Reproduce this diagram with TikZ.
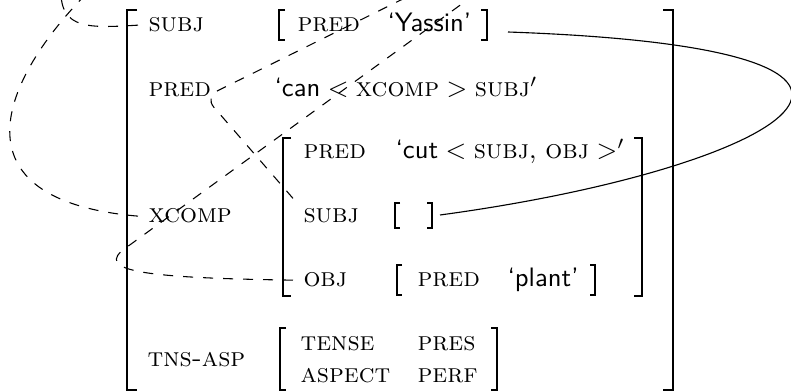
\documentclass[tikz,border=0pt]{standalone}
\begin{document}
\begin{tikzpicture}[x=0.375pt,y=-0.375pt,
  every node/.style={inner sep=3.75pt},
  lbl/.style={anchor=base west, font=\scshape},
  val/.style={anchor=base west, font=\sffamily},
  brk/.style={line width=0.42pt},
  bigbrk/.style={line width=0.75pt},
  link/.style={dash pattern=on 3.75pt off 3.75pt, line width=0.4pt},
  share/.style={line width=0.42pt},
]
\useasboundingbox (0,0) rectangle (791,392);
\clip (0,0) rectangle (791,392);
% outer brackets
\draw[bigbrk] (137,10) -- (127,10) -- (127,390) -- (137,390);
\draw[bigbrk] (663,10) -- (673,10) -- (673,390) -- (663,390);
% xcomp brackets
\draw[bigbrk] (291,138) -- (283,138) -- (283,296) -- (291,296);
\draw[bigbrk] (634,138) -- (642,138) -- (642,296) -- (634,296);
% small brackets
\draw[brk] (285,10) -- (279,10) -- (279,40) -- (285,40);
\draw[brk] (481,10) -- (487,10) -- (487,40) -- (481,40);
\draw[brk] (400,203) -- (395,203) -- (395,228) -- (400,228);
\draw[brk] (427,203) -- (432,203) -- (432,228) -- (427,228);
\draw[brk] (402,265) -- (397,265) -- (397,295) -- (402,295);
\draw[brk] (590,265) -- (595,265) -- (595,295) -- (590,295);
\draw[brk] (286,328) -- (280,328) -- (280,390) -- (286,390);
\draw[brk] (491,328) -- (497,328) -- (497,390) -- (491,390);
% labels
\node[lbl] (subjA) at (138,32) {subj};
\node[lbl] (predA) at (138,97) {pred};
\node[lbl] (xcompA) at (138,223) {xcomp};
\node[lbl] (tnsA) at (137,367) {tns-asp};
\node[lbl] (predY) at (287,32) {pred};
\node[val] (yassin) at (377,32) {`Yassin'};
\node[anchor=base west] (canV) at (264,97) {$\textsf{`can} < \textsc{xcomp} > \textsc{subj}'$};
\node[lbl] (predB) at (293,159) {pred};
\node[anchor=base west] (cutV) at (385,159) {$\textsf{`cut} < \textsc{subj}\textrm{, }\textsc{obj} >'$};
\node[lbl] (subjB) at (293,223) {subj};
\node[lbl] (objB) at (293,287) {obj};
\node[lbl] (predC) at (407,287) {pred};
\node[val] (plant) at (497,287) {`plant'};
\node[lbl] (tense) at (290,351) {tense};
\node[lbl] (aspect) at (290,383) {aspect};
\node[lbl] (pres) at (407,351) {pres};
\node[lbl] (perf) at (407,383) {perf};
% free ends
\coordinate (eTop) at (61,-10);
\coordinate (dTop) at (90,-10);
\coordinate (aTop) at (421,-10);
\coordinate (bTop) at (481,-10);
\coordinate (yR) at (508,32);
\coordinate (eR) at (440,215);
% dashed links
\draw[link] (subjA.west) .. controls (90,28) and (60,30) .. (eTop);
\draw[link] (xcompA.west) .. controls (-50,200) and (0,80) .. (dTop);
\draw[link, rounded corners=5pt] (subjB.north west) -- (205,97) -- (aTop);
\draw[link] (objB.west) .. controls (150,278) and (90,272) .. (127,247) -- (bTop);
% solid sharing line
\draw[share] (yR) .. controls (993,49) and (780,169) .. (eR);
\end{tikzpicture}
\end{document}
